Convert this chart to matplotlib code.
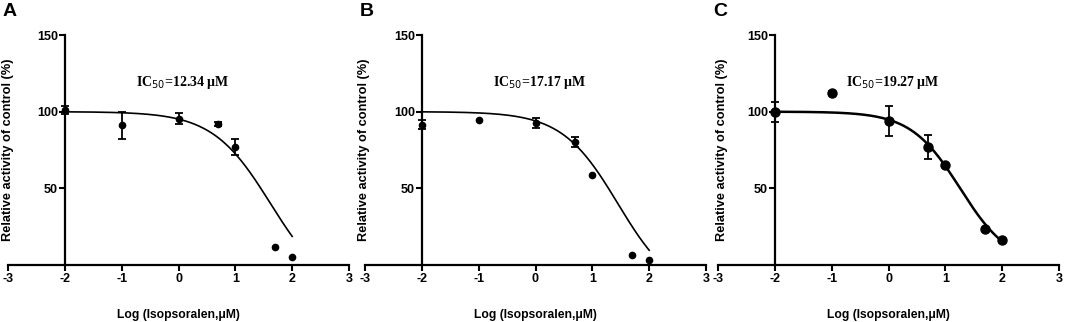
import numpy as np
import matplotlib
matplotlib.use("Agg")
import matplotlib.pyplot as plt

# log concentration (uM)
log_conc = [-2, -1, 0, 0.699, 1, 1.699, 2]

# panel A
a_mean = [101, 91, 95.5, 92, 77, 12, 5]
a_err = [2.5, 9, 3.5, 1.5, 5.5, 0, 0]
a_fit = dict(top=100, bottom=-20, logc=1.62, hill=0.85)

# panel B
b_mean = [91.5, 94.5, 92.5, 80.5, 59, 6.5, 3.5]
b_err = [3, 0, 3.3, 3.3, 0, 0, 0]
b_fit = dict(top=100, bottom=-20, logc=1.45, hill=0.88)

# panel C
c_mean = [100, 112.5, 94, 77, 65, 23.5, 16.5]
c_err = [6.5, 1.2, 10, 8, 1, 0, 0]
c_fit = dict(top=100, bottom=0, logc=1.26, hill=1.0)

letters = ["A", "B", "C"]
ic50_text = ["12.34", "17.17", "19.27"]
xticks = [-3, -2, -1, 0, 1, 2, 3]
yticks = [50, 100, 150]

W, H = 1065, 322
panel_left = [8, 365, 718]
panel_w = 341
ax_bottom, ax_top = 265, 35
ylab_x = [0.018, 0.015, 0.03]

SANS = "Liberation Sans"
SERIF = "Liberation Serif"


def logistic(x, top, bottom, logc, hill):
    return bottom + (top - bottom) / (1 + 10 ** ((x - logc) * hill))


fig = plt.figure(figsize=(W / 100, H / 100), dpi=100)

panels = [(a_mean, a_err, a_fit, 4.5, 1.2),
          (b_mean, b_err, b_fit, 4.5, 1.2),
          (c_mean, c_err, c_fit, 6.5, 1.8)]

for i, (mean, err, fit, msize, lw) in enumerate(panels):
    left = panel_left[i]
    ax = fig.add_axes([left / W, (H - ax_bottom) / H,
                       panel_w / W, (ax_bottom - ax_top) / H])
    ax.set_xlim(-3, 3)
    ax.set_ylim(0, 150)
    ax.patch.set_visible(False)

    # fitted curve
    xs = np.linspace(-2, 2, 200)
    ax.plot(xs, logistic(xs, **fit), color="black", lw=lw, zorder=2)

    # points with SD bars
    yerr = np.array(err, dtype=float)
    ax.errorbar(log_conc, mean, yerr=np.where(yerr > 0, yerr, np.nan),
                fmt="none", ecolor="black", elinewidth=1.3,
                capsize=3, capthick=1.3, zorder=3)
    ax.plot(log_conc, mean, "o", color="black", ms=msize, zorder=4,
            clip_on=False)

    # GraphPad style axes
    for s in ["top", "right"]:
        ax.spines[s].set_visible(False)
    ax.spines["left"].set_position(("data", -2))
    ax.spines["left"].set_bounds(0, 150)
    ax.spines["left"].set_linewidth(1.6)
    ax.spines["bottom"].set_linewidth(1.6)

    ax.set_xticks(xticks)
    ax.set_yticks(yticks)
    ax.set_xticklabels([str(t) for t in xticks])
    ax.set_yticklabels([str(t) for t in yticks])
    ax.tick_params(direction="out", length=4, width=1.5, pad=2,
                   labelsize=9)
    ax.tick_params(axis="y", pad=1)
    for lab in ax.get_xticklabels() + ax.get_yticklabels():
        lab.set_fontfamily(SANS)
        lab.set_fontweight("bold")

    ax.set_ylabel("Relative activity of control (%)", fontfamily=SANS,
                  fontweight="bold", fontsize=9.2)
    ax.yaxis.set_label_coords(ylab_x[i], 0.5)
    ax.set_xlabel("Log (Isopsoralen,\u03bcM)", fontfamily=SANS,
                  fontweight="bold", fontsize=8.7, labelpad=17)

    ax.text(0.08, 119, "IC$_{50}$=" + ic50_text[i] + " \u03bcM",
            fontfamily=SERIF, fontweight="bold", fontsize=10,
            ha="center", va="center")

    fig.text((left - 5) / W, 1 - 12 / H, letters[i], fontfamily=SANS,
             fontweight="bold", fontsize=14, ha="left", va="center")

fig.savefig("out.png", dpi=100)
